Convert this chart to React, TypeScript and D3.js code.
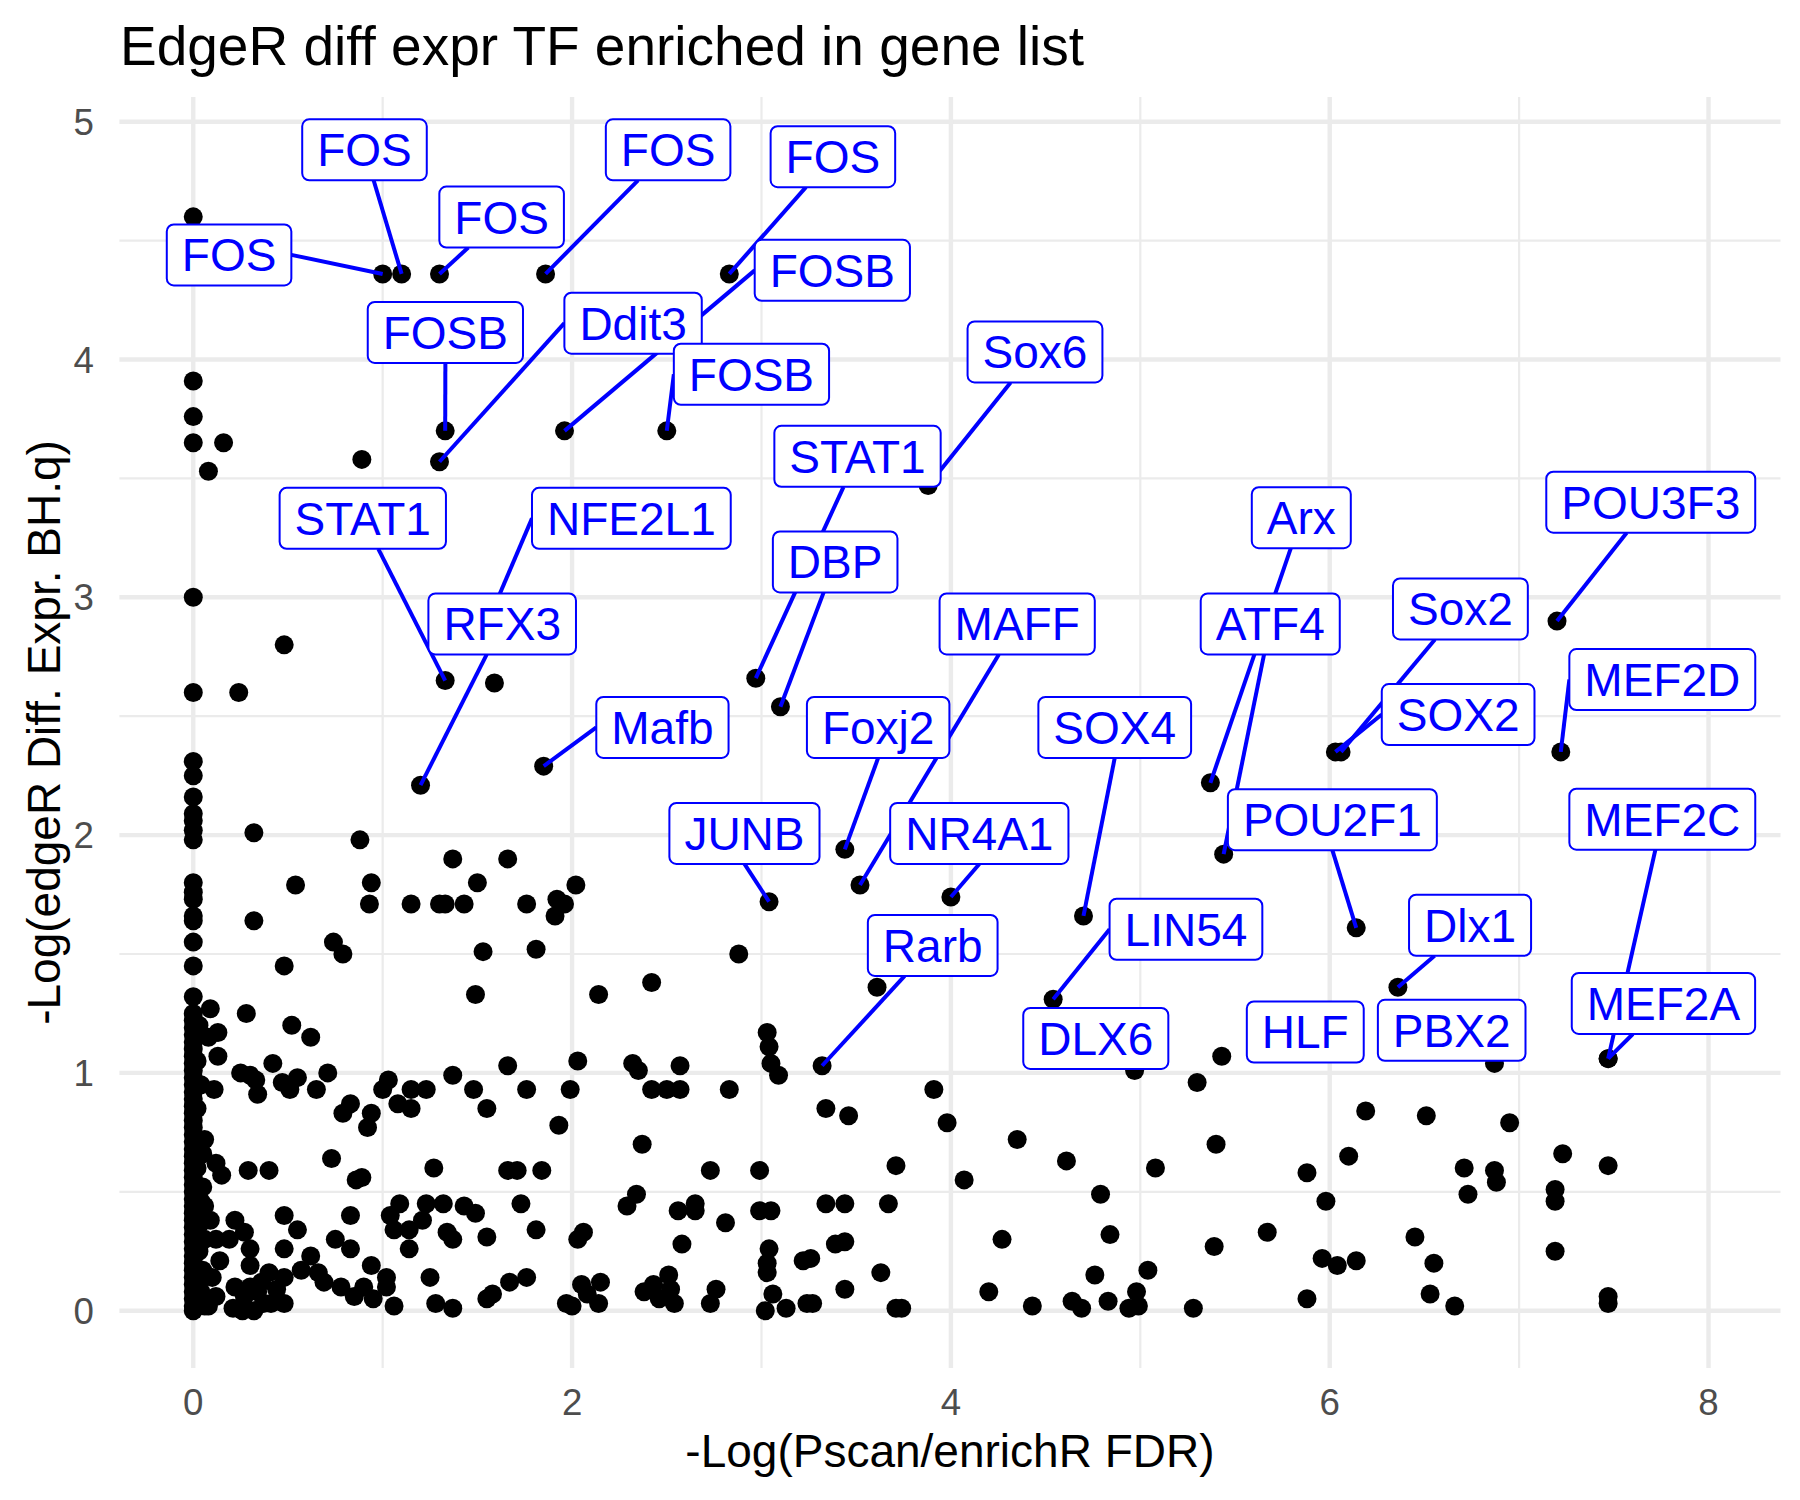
import React, { useMemo } from "react";
import * as d3 from "d3";

const W = 1800;
const H = 1500;
const FONT = "'Liberation Sans', Arial, Helvetica, sans-serif";

// ---------------- DATA ----------------
// Points sitting on x = 0 (no Pscan/enrichR enrichment)
const zeroColumnY = [
  4.6, 3.91, 3.76, 3.65, 3.0, 2.6, 2.31, 2.25, 2.16, 2.09, 2.06, 2.02, 1.98, 1.8, 1.76, 1.73,
  1.66, 1.64, 1.55, 1.45, 1.32, 1.25, 1.22, 1.19, 1.16, 1.13, 1.1, 1.07, 1.04, 1.01, 0.98,
  0.95, 0.92, 0.89, 0.86, 0.83, 0.8, 0.77, 0.74, 0.71, 0.68, 0.65, 0.62, 0.59, 0.56, 0.53,
  0.5, 0.47, 0.44, 0.41, 0.38, 0.35, 0.32, 0.29, 0.26, 0.23, 0.2, 0.17, 0.14, 0.11, 0.08,
  0.05, 0.02, 0.0,
];

const nearZeroPoints: [number, number][] = [
  [0.03, 1.2], [0.02, 1.05], [0.04, 0.95], [0.02, 0.85], [0.03, 0.7], [0.05, 0.66],
  [0.02, 0.6], [0.05, 0.52], [0.04, 0.46], [0.04, 0.4], [0.03, 0.36], [0.06, 0.3],
  [0.03, 0.25], [0.05, 0.17], [0.03, 0.12], [0.04, 0.08], [0.06, 0.02],
];

const upperPoints: [number, number][] = [
  [0.16, 3.65], [0.08, 3.53], [0.89, 3.58], [0.48, 2.8], [0.24, 2.6], [0.32, 2.01],
  [1.59, 2.64],
  [0.88, 1.98], [1.37, 1.9], [1.66, 1.9], [0.54, 1.79], [0.94, 1.8], [0.93, 1.71],
  [1.15, 1.71], [1.3, 1.71], [1.33, 1.71], [1.43, 1.71], [1.5, 1.8], [1.76, 1.71],
  [1.92, 1.73], [1.96, 1.71], [1.91, 1.66], [2.02, 1.79], [0.32, 1.64], [0.74, 1.55],
  [0.79, 1.5], [0.48, 1.45], [1.53, 1.51], [1.81, 1.52], [2.88, 1.5], [1.49, 1.33],
  [2.14, 1.33], [2.42, 1.38], [3.61, 1.36],
];

const lowLeftPoints: [number, number][] = [
  [0.09, 1.27], [0.28, 1.25], [0.13, 1.17], [0.08, 1.15], [0.52, 1.2], [0.62, 1.15],
  [0.13, 1.07], [0.25, 1.0], [0.3, 0.99], [0.34, 0.91], [0.33, 0.97], [0.42, 1.04],
  [0.47, 0.96], [0.51, 0.93], [0.55, 0.98], [0.65, 0.93], [0.71, 1.0], [0.11, 0.93],
  [0.83, 0.87], [0.79, 0.83], [0.94, 0.83], [0.92, 0.77], [1.03, 0.97], [1.0, 0.93],
  [1.08, 0.87], [1.15, 0.85], [1.15, 0.93], [1.23, 0.93], [1.37, 0.99], [1.48, 0.93],
  [0.06, 0.72], [0.12, 0.62], [0.15, 0.57], [0.29, 0.59], [0.4, 0.59], [0.73, 0.64],
  [0.86, 0.55], [0.89, 0.56], [1.27, 0.6], [0.06, 0.44], [0.09, 0.38], [0.22, 0.38],
  [0.27, 0.33], [0.48, 0.4], [0.55, 0.34], [0.83, 0.4], [1.04, 0.4], [1.09, 0.45],
  [1.06, 0.34], [1.14, 0.34], [1.21, 0.38], [1.23, 0.45], [1.32, 0.45], [1.43, 0.44],
  [1.34, 0.33], [1.37, 0.3], [1.14, 0.26], [0.12, 0.3], [0.19, 0.3], [0.14, 0.21],
  [0.3, 0.26], [0.3, 0.19], [0.48, 0.26], [0.62, 0.23], [0.75, 0.3], [0.83, 0.26],
  [0.94, 0.19], [1.02, 0.14], [1.25, 0.14], [0.1, 0.14], [0.22, 0.1], [0.3, 0.1],
  [0.4, 0.16], [0.48, 0.14], [0.57, 0.17], [0.66, 0.16], [0.69, 0.12], [0.78, 0.1],
  [0.85, 0.06], [0.9, 0.1], [0.95, 0.05], [1.02, 0.1], [0.12, 0.06], [0.08, 0.02],
  [0.21, 0.01], [0.26, 0.0], [0.32, 0.0], [0.37, 0.03], [0.41, 0.03], [0.48, 0.03],
  [1.06, 0.02], [1.28, 0.03], [1.37, 0.01], [0.27, 0.06], [0.34, 0.08], [0.36, 0.12],
  [0.44, 0.09],
];

const lowMidPoints: [number, number][] = [
  [3.03, 1.17], [3.04, 1.11], [3.05, 1.04], [3.09, 0.99], [1.66, 1.03], [2.03, 1.05],
  [2.32, 1.04], [2.35, 1.01], [2.57, 1.03], [1.76, 0.93], [1.99, 0.93], [2.42, 0.93],
  [2.5, 0.93], [2.57, 0.93], [2.83, 0.93], [1.55, 0.85], [1.93, 0.78], [2.37, 0.7],
  [3.34, 0.85], [3.46, 0.82], [1.66, 0.59], [1.71, 0.59], [1.84, 0.59], [2.73, 0.59],
  [2.99, 0.59], [3.71, 0.61], [1.49, 0.41], [1.73, 0.45], [2.29, 0.44], [2.34, 0.49],
  [2.56, 0.42], [2.65, 0.45], [2.65, 0.42], [2.81, 0.37], [2.99, 0.42], [3.05, 0.42],
  [3.34, 0.45], [3.44, 0.45], [3.67, 0.45], [1.55, 0.31], [1.81, 0.34], [2.03, 0.3],
  [2.06, 0.33], [2.58, 0.28], [3.04, 0.26], [3.03, 0.2], [3.03, 0.16], [3.22, 0.21],
  [3.26, 0.22], [3.39, 0.28], [3.44, 0.29], [3.63, 0.16], [3.44, 0.09], [3.71, 0.01],
  [1.55, 0.05], [1.58, 0.07], [1.67, 0.12], [1.76, 0.14], [1.97, 0.03], [2.0, 0.02],
  [2.05, 0.11], [2.08, 0.07], [2.14, 0.03], [2.15, 0.12], [2.38, 0.08], [2.43, 0.11],
  [2.46, 0.05], [2.51, 0.15], [2.52, 0.09], [2.54, 0.03], [2.73, 0.03], [2.76, 0.09],
  [3.02, 0.0], [3.06, 0.07], [3.13, 0.01], [3.24, 0.03], [3.27, 0.03],
];

const lowRightPoints: [number, number][] = [
  [3.91, 0.93], [3.98, 0.79], [4.35, 0.72], [4.61, 0.63], [5.4, 0.7], [5.08, 0.6],
  [4.07, 0.55], [4.79, 0.49], [5.88, 0.58], [5.98, 0.46], [4.27, 0.3], [4.84, 0.32],
  [5.39, 0.27], [5.67, 0.33], [5.96, 0.22], [4.76, 0.15], [5.04, 0.17], [4.2, 0.08],
  [3.74, 0.01], [4.43, 0.02], [4.64, 0.04], [4.69, 0.01], [4.83, 0.04], [4.94, 0.01],
  [4.99, 0.02], [4.98, 0.08], [5.28, 0.01], [5.88, 0.05], [5.3, 0.96], [5.43, 1.07],
  [6.19, 0.84], [6.51, 0.82], [6.95, 0.79], [6.1, 0.65], [7.23, 0.66], [7.47, 0.61],
  [6.71, 0.6], [6.87, 0.59], [6.88, 0.54], [6.73, 0.49], [7.19, 0.51], [7.19, 0.46],
  [6.45, 0.31], [6.04, 0.19], [6.14, 0.21], [6.55, 0.2], [7.19, 0.25], [6.53, 0.07],
  [6.66, 0.02], [7.47, 0.06], [7.47, 0.03],
];

// Labelled transcription factors
const labelNames = [
  "FOS", "FOS", "FOS", "FOS", "FOS", "FOSB", "FOSB", "Ddit3", "FOSB", "Sox6",
  "STAT1", "STAT1", "NFE2L1", "RFX3", "DBP", "Mafb", "MAFF", "Foxj2", "SOX4", "JUNB",
  "NR4A1", "Rarb", "LIN54", "DLX6", "Arx", "ATF4", "POU2F1", "Sox2", "SOX2", "POU3F3",
  "MEF2D", "MEF2C", "MEF2A", "Dlx1", "HLF", "PBX2",
];
const labelPointX = [
  1.0, 1.1, 1.3, 1.86, 2.83, 1.96, 1.33, 1.3, 2.5, 3.88,
  2.97, 1.33, 1.53, 1.2, 3.1, 1.85, 3.52, 3.44, 4.7, 3.04,
  4.0, 3.32, 4.54, 4.97, 5.37, 5.44, 6.14, 6.06, 6.03, 7.2,
  7.22, 7.47, 7.47, 6.36, 5.87, 6.87,
];
const labelPointY = [
  4.36, 4.36, 4.36, 4.36, 4.36, 3.7, 3.7, 3.57, 3.7, 3.47,
  2.66, 2.65, 2.85, 2.21, 2.54, 2.29, 1.79, 1.94, 1.66, 1.72,
  1.74, 1.03, 1.31, 1.01, 2.22, 1.92, 1.61, 2.35, 2.35, 2.9,
  2.35, 1.06, 1.06, 1.36, 1.17, 1.04,
];
// repelled label positions (data units)
const labelBoxX = [
  0.189, 0.904, 1.628, 2.507, 3.377, 3.374, 1.331, 2.322, 2.947, 4.444,
  3.507, 0.895, 2.313, 1.631, 3.389, 2.477, 4.35, 3.616, 4.865, 2.91,
  4.15, 3.904, 5.241, 4.765, 5.85, 5.686, 6.014, 6.69, 6.678, 7.695,
  7.756, 7.756, 7.762, 6.741, 5.871, 6.644,
];
const labelBoxY = [
  4.44, 4.882, 4.599, 4.882, 4.853, 4.375, 4.114, 4.153, 3.938, 4.032,
  3.593, 3.332, 3.332, 2.888, 3.149, 2.453, 2.888, 2.453, 2.453, 2.007,
  2.007, 1.536, 1.604, 1.145, 3.335, 2.888, 2.065, 2.951, 2.507, 3.4,
  2.654, 2.067, 1.292, 1.621, 1.172, 1.179,
];

const xMajor = [0, 2, 4, 6, 8];
const xMinor = [1, 3, 5, 7];
const yMajor = [0, 1, 2, 3, 4, 5];
const yMinor = [0.5, 1.5, 2.5, 3.5, 4.5];

const titleText = "EdgeR diff expr TF enriched in gene list";
const xTitle = "-Log(Pscan/enrichR FDR)";
const yTitle = "-Log(edgeR Diff. Expr. BH.q)";

// ---------------- LAYOUT ----------------
const panel = { left: 119.4, right: 1780.5, top: 97, bottom: 1368 };
const LABEL_FONT = 46;
const LABEL_PAD_X = 15;
const LABEL_H = 61;
const MIN_SEG = 30; // shortest segment drawn
const MIN_GAP = 10; // no segment when point touches its label box

let measureCtx: CanvasRenderingContext2D | null = null;
function measure(text: string, size: number): number {
  if (!measureCtx) {
    const c = document.createElement("canvas");
    measureCtx = c.getContext("2d");
  }
  if (!measureCtx) return text.length * size * 0.6;
  measureCtx.font = `${size}px ${FONT}`;
  return measureCtx.measureText(text).width;
}

export default function App() {
  const x = d3.scaleLinear().domain([-0.39, 8.38]).range([panel.left, panel.right]);
  const y = d3.scaleLinear().domain([-0.241, 5.104]).range([panel.bottom, panel.top]);

  const points = useMemo(() => {
    const all: [number, number][] = [];
    zeroColumnY.forEach((v) => all.push([0, v]));
    nearZeroPoints.forEach((p) => all.push(p));
    upperPoints.forEach((p) => all.push(p));
    lowLeftPoints.forEach((p) => all.push(p));
    lowMidPoints.forEach((p) => all.push(p));
    lowRightPoints.forEach((p) => all.push(p));
    labelPointX.forEach((v, i) => all.push([v, labelPointY[i]]));
    return all;
  }, []);

  const labels = useMemo(
    () =>
      labelNames.map((name, i) => {
        const tw = measure(name, LABEL_FONT);
        const w = tw + 2 * LABEL_PAD_X;
        const h = LABEL_H;
        const cx = x(labelBoxX[i]);
        const cy = y(labelBoxY[i]);
        const px = x(labelPointX[i]);
        const py = y(labelPointY[i]);
        const dx = px - cx;
        const dy = py - cy;
        const gapX = Math.max(0, Math.abs(dx) - w / 2);
        const gapY = Math.max(0, Math.abs(dy) - h / 2);
        let seg: null | [number, number, number, number] = null;
        if (Math.hypot(gapX, gapY) > MIN_GAP) {
          let sx: number;
          let sy: number;
          const outsideX = Math.abs(dx) > w / 2;
          const centerLine = () => {
            const tx = dx !== 0 ? w / 2 / Math.abs(dx) : Infinity;
            const ty = dy !== 0 ? h / 2 / Math.abs(dy) : Infinity;
            const t = Math.min(tx, ty);
            return [cx + t * dx, cy + t * dy];
          };
          if (!outsideX) {
            if (Math.abs(dx) > w / 4) {
              [sx, sy] = centerLine();
            } else {
              sx = cx;
              sy = cy + Math.sign(dy) * (h / 2);
            }
          } else if (Math.abs(dy) / Math.abs(dx) < 0.8) {
            sx = cx + Math.sign(dx) * (w / 2);
            sy = cy;
          } else {
            [sx, sy] = centerLine();
          }
          if (Math.hypot(px - sx, py - sy) > MIN_SEG) seg = [sx, sy, px, py];
        }
        return { name, w, h, cx, cy, seg };
      }),
    []
  );

  return (
    <svg
      width={W}
      height={H}
      style={{ position: "absolute", left: 0, top: 0, background: "#fff" }}
      fontFamily={FONT}
    >
      <rect x={0} y={0} width={W} height={H} fill="#fff" />
      {/* grid */}
      <g>
        {yMinor.map((v) => (
          <line key={"ym" + v} x1={panel.left} x2={panel.right} y1={y(v)} y2={y(v)} stroke="#EBEBEB" strokeWidth={2.2} />
        ))}
        {xMinor.map((v) => (
          <line key={"xm" + v} y1={panel.top} y2={panel.bottom} x1={x(v)} x2={x(v)} stroke="#EBEBEB" strokeWidth={2.2} />
        ))}
        {yMajor.map((v) => (
          <line key={"yM" + v} x1={panel.left} x2={panel.right} y1={y(v)} y2={y(v)} stroke="#EBEBEB" strokeWidth={4.4} />
        ))}
        {xMajor.map((v) => (
          <line key={"xM" + v} y1={panel.top} y2={panel.bottom} x1={x(v)} x2={x(v)} stroke="#EBEBEB" strokeWidth={4.4} />
        ))}
      </g>
      {/* points */}
      <g>
        {points.map((p, i) => (
          <circle key={i} cx={x(p[0])} cy={y(p[1])} r={9.5} fill="#000" />
        ))}
      </g>
      {/* segments */}
      <g>
        {labels.map((l, i) =>
          l.seg ? (
            <line key={"s" + i} x1={l.seg[0]} y1={l.seg[1]} x2={l.seg[2]} y2={l.seg[3]} stroke="#0000FF" strokeWidth={4} />
          ) : null
        )}
      </g>
      {/* label boxes */}
      <g>
        {labels.map((l, i) => (
          <g key={"l" + i}>
            <rect
              x={l.cx - l.w / 2}
              y={l.cy - l.h / 2}
              width={l.w}
              height={l.h}
              rx={7}
              ry={7}
              fill="#fff"
              stroke="#0000FF"
              strokeWidth={2}
            />
            <text x={l.cx} y={l.cy + 16.5} textAnchor="middle" fontSize={LABEL_FONT} fill="#0000FF">
              {l.name}
            </text>
          </g>
        ))}
      </g>
      {/* axes tick labels */}
      <g fill="#4D4D4D" fontSize={36.7}>
        {xMajor.map((v) => (
          <text key={"xt" + v} x={x(v)} y={1415} textAnchor="middle">
            {v}
          </text>
        ))}
        {yMajor.map((v) => (
          <text key={"yt" + v} x={94} y={y(v) + 13} textAnchor="end">
            {v}
          </text>
        ))}
      </g>
      {/* titles */}
      <text x={(panel.left + panel.right) / 2} y={1467} textAnchor="middle" fontSize={46} fill="#000">
        {xTitle}
      </text>
      <text
        transform={`translate(60, ${(panel.top + panel.bottom) / 2}) rotate(-90)`}
        textAnchor="middle"
        fontSize={46}
        fill="#000"
      >
        {yTitle}
      </text>
      <text x={120} y={65} fontSize={55} fill="#000">
        {titleText}
      </text>
    </svg>
  );
}
